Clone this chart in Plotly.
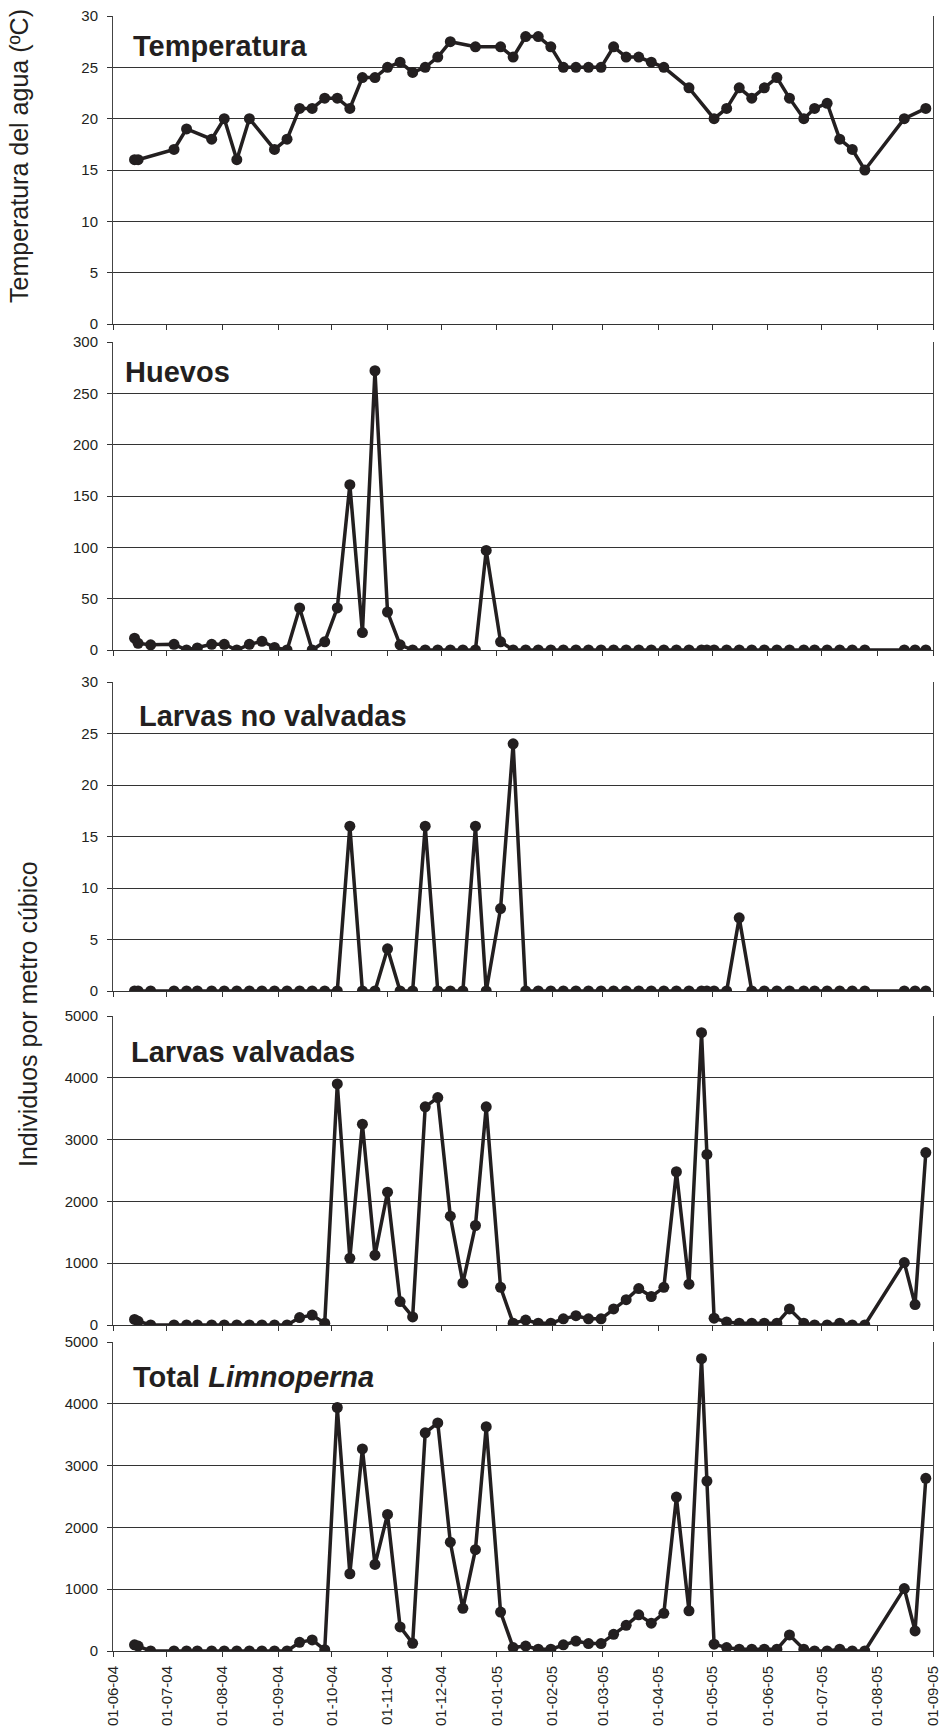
import plotly.graph_objects as go

# ---------------- data ----------------
dates = [
    "2004-06-13", "2004-06-15", "2004-06-22", "2004-07-05", "2004-07-12", "2004-07-18",
    "2004-07-26", "2004-08-02", "2004-08-09", "2004-08-16", "2004-08-23", "2004-08-30",
    "2004-09-06", "2004-09-13", "2004-09-20", "2004-09-27", "2004-10-04", "2004-10-11",
    "2004-10-18", "2004-10-25", "2004-11-01", "2004-11-08", "2004-11-15", "2004-11-22",
    "2004-11-29", "2004-12-06", "2004-12-13", "2004-12-20", "2004-12-26", "2005-01-03",
    "2005-01-10", "2005-01-17", "2005-01-24", "2005-01-31", "2005-02-07", "2005-02-14",
    "2005-02-21", "2005-02-28", "2005-03-07", "2005-03-14", "2005-03-21", "2005-03-28",
    "2005-04-04", "2005-04-11", "2005-04-18", "2005-04-25", "2005-04-28", "2005-05-02",
    "2005-05-09", "2005-05-16", "2005-05-23", "2005-05-30", "2005-06-06", "2005-06-13",
    "2005-06-21", "2005-06-27", "2005-07-04", "2005-07-11", "2005-07-18", "2005-07-25",
    "2005-08-16", "2005-08-22", "2005-08-28",
]

temperatura = [
    16, 16, None, 17, 19, None, 18, 20, 16, 20, None, 17,
    18, 21, 21, 22, 22, 21, 24, 24, 25, 25.5, 24.5, 25,
    26, 27.5, None, 27, None, 27, 26, 28, 28, 27, 25, 25,
    25, 25, 27, 26, 26, 25.5, 25, None, 23, None, None, 20,
    21, 23, 22, 23, 24, 22, 20, 21, 21.5, 18, 17, 15,
    20, None, 21,
]

huevos = [
    11.5, 6.5, 5, 5.5, 0, 2, 5.5, 5.5, 0, 5.5, 8.5, 2.5,
    0, 41, 0, 8, 41, 161, 17, 272, 37, 5, 0, 0,
    0, 0, 0, 0, 97, 8, 0, 0, 0, 0, 0, 0,
    0, 0, 0, 0, 0, 0, 0, 0, 0, 0, 0, 0,
    0, 0, 0, 0, 0, 0, 0, 0, 0, 0, 0, 0,
    0, 0, 0,
]

larvas_no_valvadas = [
    0, 0, 0, 0, 0, 0, 0, 0, 0, 0, 0, 0,
    0, 0, 0, 0, 0, 16, 0, 0, 4.1, 0, 0, 16,
    0, 0, 0, 16, 0, 8, 24, 0, 0, 0, 0, 0,
    0, 0, 0, 0, 0, 0, 0, 0, 0, 0, 0, 0,
    0, 7.1, 0, 0, 0, 0, 0, 0, 0, 0, 0, 0,
    0, 0, 0,
]

larvas_valvadas = [
    90, 60, 0, 0, 0, 0, 0, 0, 0, 0, 0, 0,
    0, 120, 160, 30, 3900, 1080, 3250, 1130, 2150, 380, 130, 3530,
    3680, 1760, 680, 1610, 3530, 610, 30, 80, 30, 30, 100, 150,
    100, 100, 260, 410, 590, 460, 610, 2480, 660, 4730, 2760, 110,
    50, 30, 30, 30, 30, 260, 30, 0, 0, 30, 0, 0,
    1010, 330, 2790,
]

total_limnoperna = [
    100, 80, 0, 0, 0, 0, 0, 0, 0, 0, 0, 0,
    0, 140, 180, 20, 3940, 1250, 3270, 1400, 2210, 390, 125, 3530,
    3690, 1760, 690, 1640, 3630, 630, 55, 80, 30, 30, 100, 160,
    120, 120, 270, 415, 585, 450, 610, 2490, 650, 4730, 2750, 110,
    55, 30, 30, 30, 30, 260, 30, 0, 0, 30, 0, 0,
    1010, 325, 2795,
]

tick_dates = [
    "2004-06-01", "2004-07-01", "2004-08-01", "2004-09-01", "2004-10-01", "2004-11-01",
    "2004-12-01", "2005-01-01", "2005-02-01", "2005-03-01", "2005-04-01", "2005-05-01",
    "2005-06-01", "2005-07-01", "2005-08-01", "2005-09-01",
]

panel_titles = ["<b>Temperatura</b>", "<b>Huevos</b>", "<b>Larvas no valvadas</b>",
                "<b>Larvas valvadas</b>", "<b>Total <i>Limnoperna</i></b>"]
y_ranges = [[0, 30], [0, 300], [0, 30], [0, 5000], [0, 5000]]
y_dticks = [5, 50, 5, 1000, 1000]

# ---------------- layout geometry ----------------
W, H = 944, 1729
panel_px = [(16, 324), (342, 650), (682, 991), (1016, 1325), (1342, 1651)]
x_px = (113, 933)
title_px = [(131, 46), (123, 372), (137, 716), (129, 1052), (131, 1377)]

INK = "#231f20"
FONT = "Liberation Sans, Arial, sans-serif"

series = [temperatura, huevos, larvas_no_valvadas, larvas_valvadas, total_limnoperna]

fig = go.Figure()
layout = dict(
    width=W, height=H,
    margin=dict(l=0, r=0, t=0, b=0, pad=0, autoexpand=False),
    paper_bgcolor="white", plot_bgcolor="white",
    showlegend=False,
    font=dict(family=FONT, color=INK),
    annotations=[],
)

for i, vals in enumerate(series):
    n = i + 1
    xa = "x" if n == 1 else f"x{n}"
    ya = "y" if n == 1 else f"y{n}"
    fig.add_trace(go.Scatter(
        x=dates, y=vals, xaxis=xa, yaxis=ya,
        mode="lines+markers", connectgaps=True,
        line=dict(color=INK, width=3.5),
        marker=dict(color=INK, size=11, symbol="circle"),
        hoverinfo="x+y",
    ))
    top, bot = panel_px[i]
    ydom = [1 - bot / H, 1 - top / H]
    xdom = [x_px[0] / W, x_px[1] / W]
    last = (n == 5)
    layout[f"xaxis{'' if n == 1 else n}"] = dict(
        domain=xdom, anchor=ya, type="date", automargin=False,
        range=["2004-06-01", "2005-09-01"],
        tickvals=tick_dates, tickformat="%d-%m-%y",
        showticklabels=last, tickangle=-90,
        ticks="outside", ticklen=5, tickcolor="#333", tickwidth=1,
        showline=True, linecolor="#333", linewidth=1,
        showgrid=False, zeroline=False,
        tickfont=dict(family=FONT, size=15, color=INK),
        ticklabelstandoff=3,
    )
    layout[f"yaxis{'' if n == 1 else n}"] = dict(
        domain=ydom, anchor=xa, range=y_ranges[i], automargin=False,
        tick0=0, dtick=y_dticks[i],
        ticks="outside", ticklen=5, tickcolor="#333", tickwidth=1,
        showline=True, linecolor="#444", linewidth=1, mirror=True,
        showgrid=True, gridcolor="#333", gridwidth=1,
        zeroline=False,
        tickfont=dict(family=FONT, size=15, color=INK),
        ticklabelstandoff=6,
    )
    tx, ty = title_px[i]
    layout["annotations"].append(dict(
        text=panel_titles[i], xref="paper", yref="paper",
        x=tx / W, y=1 - ty / H, xanchor="left", yanchor="middle",
        showarrow=False, font=dict(family=FONT, size=29, color=INK),
    ))

layout["annotations"].append(dict(
    text="Temperatura del agua (ºC)", xref="paper", yref="paper",
    x=19 / W, y=1 - 156 / H, xanchor="center", yanchor="middle",
    textangle=-90, showarrow=False, font=dict(family=FONT, size=25, color=INK),
))
layout["annotations"].append(dict(
    text="Individuos por metro cúbico", xref="paper", yref="paper",
    x=28 / W, y=1 - 1014 / H, xanchor="center", yanchor="middle",
    textangle=-90, showarrow=False, font=dict(family=FONT, size=25, color=INK),
))

fig.update_layout(**layout)
fig.write_html(
    "out.html",
    config={"displayModeBar": False},
    post_script="document.body.style.margin='0';document.body.style.padding='0';"
                "document.body.style.overflow='hidden';",
)
